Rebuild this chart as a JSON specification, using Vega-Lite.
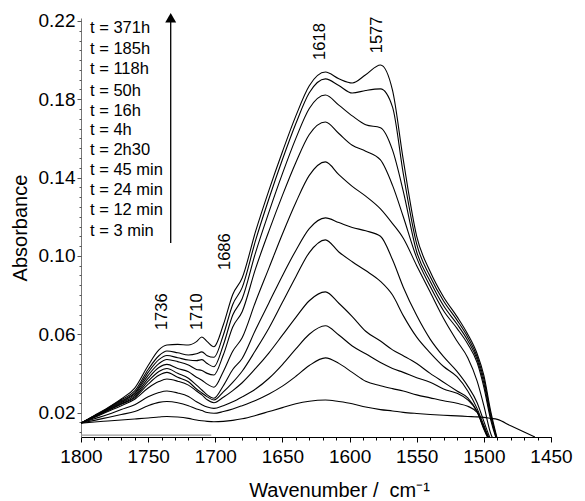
{
"$schema":"https://vega.github.io/schema/vega-lite/v6.json",
"width":470,"height":419,
"autosize":{"type":"none"},
"padding":{"left":81,"top":18,"right":34,"bottom":64},
"background":"white",
"config":{"view":{"stroke":null},"font":"Liberation Sans","axis":{"grid":false,"labelFont":"Liberation Sans","titleFont":"Liberation Sans","labelColor":"black","titleColor":"black","titleFontWeight":"normal"}},
"datasets":{
"spectra":[
{"s":1,"w":1800,"a":0.0146},{"s":1,"w":1790,"a":0.0185},{"s":1,"w":1780,"a":0.0225},{"s":1,"w":1770,"a":0.027},{"s":1,"w":1760,"a":0.0325},{"s":1,"w":1750,"a":0.044},{"s":1,"w":1742,"a":0.052},{"s":1,"w":1736,"a":0.0545},{"s":1,"w":1728,"a":0.0548},{"s":1,"w":1720,"a":0.0545},{"s":1,"w":1714,"a":0.0562},{"s":1,"w":1710,"a":0.0586},{"s":1,"w":1706,"a":0.0562},{"s":1,"w":1701,"a":0.0536},{"s":1,"w":1694,"a":0.0648},{"s":1,"w":1687,"a":0.0803},{"s":1,"w":1680,"a":0.0887},{"s":1,"w":1670,"a":0.1125},{"s":1,"w":1660,"a":0.1336},{"s":1,"w":1650,"a":0.1532},{"s":1,"w":1640,"a":0.1715},{"s":1,"w":1630,"a":0.1869},{"s":1,"w":1618,"a":0.1939},{"s":1,"w":1608,"a":0.1905},{"s":1,"w":1598,"a":0.1883},{"s":1,"w":1588,"a":0.1925},{"s":1,"w":1577,"a":0.1975},{"s":1,"w":1568,"a":0.1845},{"s":1,"w":1560,"a":0.149},{"s":1,"w":1550,"a":0.110},{"s":1,"w":1540,"a":0.092},{"s":1,"w":1530,"a":0.079},{"s":1,"w":1520,"a":0.069},{"s":1,"w":1512,"a":0.060},{"s":1,"w":1505,"a":0.050},{"s":1,"w":1500,"a":0.039},{"s":1,"w":1495,"a":0.021},{"s":1,"w":1490,"a":0.0065},
{"s":2,"w":1800,"a":0.0146},{"s":2,"w":1790,"a":0.0183},{"s":2,"w":1780,"a":0.0222},{"s":2,"w":1770,"a":0.0265},{"s":2,"w":1760,"a":0.031},{"s":2,"w":1750,"a":0.042},{"s":2,"w":1742,"a":0.049},{"s":2,"w":1736,"a":0.0514},{"s":2,"w":1728,"a":0.0505},{"s":2,"w":1720,"a":0.0494},{"s":2,"w":1714,"a":0.050},{"s":2,"w":1710,"a":0.051},{"s":2,"w":1706,"a":0.049},{"s":2,"w":1701,"a":0.0482},{"s":2,"w":1694,"a":0.0596},{"s":2,"w":1687,"a":0.0752},{"s":2,"w":1680,"a":0.0838},{"s":2,"w":1670,"a":0.1079},{"s":2,"w":1660,"a":0.1293},{"s":2,"w":1650,"a":0.1492},{"s":2,"w":1640,"a":0.1676},{"s":2,"w":1630,"a":0.1833},{"s":2,"w":1618,"a":0.1904},{"s":2,"w":1608,"a":0.187},{"s":2,"w":1598,"a":0.1832},{"s":2,"w":1588,"a":0.1845},{"s":2,"w":1577,"a":0.1853},{"s":2,"w":1568,"a":0.176},{"s":2,"w":1560,"a":0.142},{"s":2,"w":1550,"a":0.106},{"s":2,"w":1540,"a":0.0895},{"s":2,"w":1530,"a":0.077},{"s":2,"w":1520,"a":0.0672},{"s":2,"w":1512,"a":0.0585},{"s":2,"w":1505,"a":0.0485},{"s":2,"w":1500,"a":0.037},{"s":2,"w":1495,"a":0.0195},{"s":2,"w":1490,"a":0.006},
{"s":3,"w":1800,"a":0.0146},{"s":3,"w":1790,"a":0.0182},{"s":3,"w":1780,"a":0.022},{"s":3,"w":1770,"a":0.026},{"s":3,"w":1760,"a":0.030},{"s":3,"w":1750,"a":0.0405},{"s":3,"w":1742,"a":0.047},{"s":3,"w":1736,"a":0.0491},{"s":3,"w":1728,"a":0.048},{"s":3,"w":1720,"a":0.0468},{"s":3,"w":1714,"a":0.0465},{"s":3,"w":1710,"a":0.047},{"s":3,"w":1706,"a":0.045},{"s":3,"w":1701,"a":0.0434},{"s":3,"w":1694,"a":0.0545},{"s":3,"w":1687,"a":0.0698},{"s":3,"w":1680,"a":0.0781},{"s":3,"w":1670,"a":0.1017},{"s":3,"w":1660,"a":0.1225},{"s":3,"w":1650,"a":0.142},{"s":3,"w":1640,"a":0.160},{"s":3,"w":1630,"a":0.1753},{"s":3,"w":1618,"a":0.1822},{"s":3,"w":1608,"a":0.177},{"s":3,"w":1598,"a":0.1715},{"s":3,"w":1588,"a":0.167},{"s":3,"w":1577,"a":0.1655},{"s":3,"w":1568,"a":0.154},{"s":3,"w":1560,"a":0.133},{"s":3,"w":1550,"a":0.102},{"s":3,"w":1540,"a":0.087},{"s":3,"w":1530,"a":0.0745},{"s":3,"w":1520,"a":0.0652},{"s":3,"w":1512,"a":0.0568},{"s":3,"w":1505,"a":0.047},{"s":3,"w":1500,"a":0.035},{"s":3,"w":1495,"a":0.018},{"s":3,"w":1490,"a":0.0055},
{"s":4,"w":1800,"a":0.0146},{"s":4,"w":1790,"a":0.0181},{"s":4,"w":1780,"a":0.0218},{"s":4,"w":1770,"a":0.0255},{"s":4,"w":1760,"a":0.0295},{"s":4,"w":1750,"a":0.039},{"s":4,"w":1742,"a":0.045},{"s":4,"w":1736,"a":0.0471},{"s":4,"w":1728,"a":0.046},{"s":4,"w":1720,"a":0.0443},{"s":4,"w":1714,"a":0.042},{"s":4,"w":1710,"a":0.0415},{"s":4,"w":1706,"a":0.040},{"s":4,"w":1701,"a":0.0392},{"s":4,"w":1694,"a":0.0495},{"s":4,"w":1687,"a":0.0637},{"s":4,"w":1680,"a":0.0715},{"s":4,"w":1670,"a":0.0935},{"s":4,"w":1660,"a":0.1128},{"s":4,"w":1650,"a":0.1309},{"s":4,"w":1640,"a":0.1477},{"s":4,"w":1630,"a":0.162},{"s":4,"w":1618,"a":0.1684},{"s":4,"w":1608,"a":0.1625},{"s":4,"w":1598,"a":0.1565},{"s":4,"w":1588,"a":0.1535},{"s":4,"w":1577,"a":0.149},{"s":4,"w":1568,"a":0.136},{"s":4,"w":1560,"a":0.120},{"s":4,"w":1550,"a":0.099},{"s":4,"w":1540,"a":0.0845},{"s":4,"w":1530,"a":0.072},{"s":4,"w":1520,"a":0.063},{"s":4,"w":1512,"a":0.055},{"s":4,"w":1505,"a":0.0455},{"s":4,"w":1500,"a":0.033},{"s":4,"w":1495,"a":0.0165},{"s":4,"w":1490,"a":0.005},
{"s":5,"w":1800,"a":0.0146},{"s":5,"w":1790,"a":0.018},{"s":5,"w":1780,"a":0.0215},{"s":5,"w":1770,"a":0.025},{"s":5,"w":1760,"a":0.0288},{"s":5,"w":1750,"a":0.0375},{"s":5,"w":1742,"a":0.043},{"s":5,"w":1736,"a":0.0446},{"s":5,"w":1728,"a":0.0425},{"s":5,"w":1720,"a":0.0408},{"s":5,"w":1714,"a":0.038},{"s":5,"w":1710,"a":0.0365},{"s":5,"w":1706,"a":0.0345},{"s":5,"w":1701,"a":0.0329},{"s":5,"w":1694,"a":0.0410},{"s":5,"w":1687,"a":0.0513},{"s":5,"w":1680,"a":0.0582},{"s":5,"w":1670,"a":0.0766},{"s":5,"w":1660,"a":0.0939},{"s":5,"w":1650,"a":0.1112},{"s":5,"w":1640,"a":0.1273},{"s":5,"w":1630,"a":0.1411},{"s":5,"w":1618,"a":0.148},{"s":5,"w":1608,"a":0.1415},{"s":5,"w":1598,"a":0.1355},{"s":5,"w":1588,"a":0.1305},{"s":5,"w":1577,"a":0.124},{"s":5,"w":1568,"a":0.1165},{"s":5,"w":1560,"a":0.109},{"s":5,"w":1550,"a":0.095},{"s":5,"w":1540,"a":0.0815},{"s":5,"w":1530,"a":0.068},{"s":5,"w":1520,"a":0.0565},{"s":5,"w":1512,"a":0.048},{"s":5,"w":1505,"a":0.036},{"s":5,"w":1500,"a":0.0235},{"s":5,"w":1495,"a":0.0095},{"s":5,"w":1490,"a":0.003},
{"s":6,"w":1800,"a":0.0146},{"s":6,"w":1790,"a":0.0178},{"s":6,"w":1780,"a":0.0212},{"s":6,"w":1770,"a":0.0245},{"s":6,"w":1760,"a":0.028},{"s":6,"w":1750,"a":0.036},{"s":6,"w":1742,"a":0.041},{"s":6,"w":1736,"a":0.0425},{"s":6,"w":1728,"a":0.040},{"s":6,"w":1720,"a":0.0375},{"s":6,"w":1714,"a":0.034},{"s":6,"w":1710,"a":0.0315},{"s":6,"w":1706,"a":0.029},{"s":6,"w":1701,"a":0.0273},{"s":6,"w":1694,"a":0.0337},{"s":6,"w":1687,"a":0.0420},{"s":6,"w":1680,"a":0.0476},{"s":6,"w":1670,"a":0.0623},{"s":6,"w":1660,"a":0.0761},{"s":6,"w":1650,"a":0.0899},{"s":6,"w":1640,"a":0.1028},{"s":6,"w":1630,"a":0.1139},{"s":6,"w":1618,"a":0.1194},{"s":6,"w":1608,"a":0.117},{"s":6,"w":1598,"a":0.1145},{"s":6,"w":1588,"a":0.1128},{"s":6,"w":1577,"a":0.110},{"s":6,"w":1568,"a":0.098},{"s":6,"w":1560,"a":0.084},{"s":6,"w":1550,"a":0.0695},{"s":6,"w":1540,"a":0.0575},{"s":6,"w":1530,"a":0.0485},{"s":6,"w":1520,"a":0.041},{"s":6,"w":1512,"a":0.0335},{"s":6,"w":1505,"a":0.025},{"s":6,"w":1500,"a":0.0155},{"s":6,"w":1495,"a":0.0065},{"s":6,"w":1490,"a":0.002},
{"s":7,"w":1800,"a":0.0146},{"s":7,"w":1790,"a":0.0177},{"s":7,"w":1780,"a":0.021},{"s":7,"w":1770,"a":0.0242},{"s":7,"w":1760,"a":0.0275},{"s":7,"w":1750,"a":0.0345},{"s":7,"w":1742,"a":0.039},{"s":7,"w":1736,"a":0.0405},{"s":7,"w":1728,"a":0.038},{"s":7,"w":1720,"a":0.0357},{"s":7,"w":1714,"a":0.032},{"s":7,"w":1710,"a":0.030},{"s":7,"w":1706,"a":0.028},{"s":7,"w":1701,"a":0.0264},{"s":7,"w":1694,"a":0.0305},{"s":7,"w":1687,"a":0.0354},{"s":7,"w":1680,"a":0.0411},{"s":7,"w":1670,"a":0.0518},{"s":7,"w":1660,"a":0.0632},{"s":7,"w":1650,"a":0.0763},{"s":7,"w":1640,"a":0.0894},{"s":7,"w":1630,"a":0.1017},{"s":7,"w":1618,"a":0.1082},{"s":7,"w":1608,"a":0.102},{"s":7,"w":1598,"a":0.097},{"s":7,"w":1588,"a":0.0925},{"s":7,"w":1577,"a":0.087},{"s":7,"w":1568,"a":0.080},{"s":7,"w":1560,"a":0.0695},{"s":7,"w":1550,"a":0.0585},{"s":7,"w":1540,"a":0.0505},{"s":7,"w":1530,"a":0.0435},{"s":7,"w":1520,"a":0.0383},{"s":7,"w":1512,"a":0.031},{"s":7,"w":1505,"a":0.022},{"s":7,"w":1500,"a":0.0135},{"s":7,"w":1495,"a":0.0055},{"s":7,"w":1490,"a":0.002},
{"s":8,"w":1800,"a":0.0146},{"s":8,"w":1790,"a":0.0175},{"s":8,"w":1780,"a":0.0205},{"s":8,"w":1770,"a":0.0235},{"s":8,"w":1760,"a":0.0268},{"s":8,"w":1750,"a":0.0325},{"s":8,"w":1742,"a":0.0358},{"s":8,"w":1736,"a":0.0371},{"s":8,"w":1728,"a":0.036},{"s":8,"w":1720,"a":0.034},{"s":8,"w":1714,"a":0.031},{"s":8,"w":1710,"a":0.029},{"s":8,"w":1706,"a":0.0265},{"s":8,"w":1701,"a":0.025},{"s":8,"w":1694,"a":0.0278},{"s":8,"w":1687,"a":0.0312},{"s":8,"w":1680,"a":0.0352},{"s":8,"w":1670,"a":0.0425},{"s":8,"w":1660,"a":0.0505},{"s":8,"w":1650,"a":0.0595},{"s":8,"w":1640,"a":0.0686},{"s":8,"w":1630,"a":0.0771},{"s":8,"w":1618,"a":0.0816},{"s":8,"w":1608,"a":0.0758},{"s":8,"w":1598,"a":0.069},{"s":8,"w":1588,"a":0.0615},{"s":8,"w":1577,"a":0.0565},{"s":8,"w":1568,"a":0.052},{"s":8,"w":1560,"a":0.049},{"s":8,"w":1550,"a":0.045},{"s":8,"w":1540,"a":0.040},{"s":8,"w":1530,"a":0.0355},{"s":8,"w":1520,"a":0.031},{"s":8,"w":1512,"a":0.0275},{"s":8,"w":1505,"a":0.0205},{"s":8,"w":1500,"a":0.0125},{"s":8,"w":1495,"a":0.005},{"s":8,"w":1490,"a":0.002},
{"s":9,"w":1800,"a":0.0146},{"s":9,"w":1790,"a":0.0168},{"s":9,"w":1780,"a":0.019},{"s":9,"w":1770,"a":0.0215},{"s":9,"w":1760,"a":0.024},{"s":9,"w":1750,"a":0.028},{"s":9,"w":1742,"a":0.0302},{"s":9,"w":1736,"a":0.031},{"s":9,"w":1728,"a":0.030},{"s":9,"w":1720,"a":0.0282},{"s":9,"w":1714,"a":0.0255},{"s":9,"w":1710,"a":0.024},{"s":9,"w":1706,"a":0.0228},{"s":9,"w":1701,"a":0.0221},{"s":9,"w":1694,"a":0.0235},{"s":9,"w":1687,"a":0.0255},{"s":9,"w":1680,"a":0.028},{"s":9,"w":1670,"a":0.032},{"s":9,"w":1660,"a":0.0375},{"s":9,"w":1650,"a":0.0445},{"s":9,"w":1640,"a":0.0525},{"s":9,"w":1630,"a":0.060},{"s":9,"w":1618,"a":0.0643},{"s":9,"w":1608,"a":0.0596},{"s":9,"w":1598,"a":0.054},{"s":9,"w":1588,"a":0.050},{"s":9,"w":1577,"a":0.0455},{"s":9,"w":1568,"a":0.0425},{"s":9,"w":1560,"a":0.0405},{"s":9,"w":1550,"a":0.0378},{"s":9,"w":1540,"a":0.0355},{"s":9,"w":1530,"a":0.032},{"s":9,"w":1520,"a":0.0298},{"s":9,"w":1512,"a":0.0265},{"s":9,"w":1505,"a":0.0205},{"s":9,"w":1500,"a":0.012},{"s":9,"w":1495,"a":0.0048},{"s":9,"w":1490,"a":0.002},
{"s":10,"w":1800,"a":0.0146},{"s":10,"w":1790,"a":0.016},{"s":10,"w":1780,"a":0.0175},{"s":10,"w":1770,"a":0.019},{"s":10,"w":1760,"a":0.0205},{"s":10,"w":1750,"a":0.0235},{"s":10,"w":1742,"a":0.0252},{"s":10,"w":1736,"a":0.0256},{"s":10,"w":1728,"a":0.025},{"s":10,"w":1720,"a":0.0235},{"s":10,"w":1714,"a":0.0218},{"s":10,"w":1710,"a":0.021},{"s":10,"w":1706,"a":0.020},{"s":10,"w":1701,"a":0.0196},{"s":10,"w":1694,"a":0.0205},{"s":10,"w":1687,"a":0.0218},{"s":10,"w":1680,"a":0.0235},{"s":10,"w":1670,"a":0.0262},{"s":10,"w":1660,"a":0.0295},{"s":10,"w":1650,"a":0.0335},{"s":10,"w":1640,"a":0.0385},{"s":10,"w":1630,"a":0.044},{"s":10,"w":1618,"a":0.0479},{"s":10,"w":1608,"a":0.0451},{"s":10,"w":1598,"a":0.0405},{"s":10,"w":1588,"a":0.036},{"s":10,"w":1577,"a":0.0337},{"s":10,"w":1568,"a":0.0322},{"s":10,"w":1560,"a":0.031},{"s":10,"w":1550,"a":0.029},{"s":10,"w":1540,"a":0.0275},{"s":10,"w":1530,"a":0.026},{"s":10,"w":1520,"a":0.0247},{"s":10,"w":1512,"a":0.0232},{"s":10,"w":1505,"a":0.020},{"s":10,"w":1500,"a":0.0115},{"s":10,"w":1495,"a":0.0045},{"s":10,"w":1490,"a":0.002},
{"s":11,"w":1800,"a":0.0146},{"s":11,"w":1790,"a":0.0152},{"s":11,"w":1780,"a":0.0157},{"s":11,"w":1770,"a":0.0162},{"s":11,"w":1760,"a":0.0167},{"s":11,"w":1750,"a":0.0172},{"s":11,"w":1742,"a":0.0177},{"s":11,"w":1736,"a":0.018},{"s":11,"w":1728,"a":0.0177},{"s":11,"w":1720,"a":0.017},{"s":11,"w":1714,"a":0.0162},{"s":11,"w":1710,"a":0.0158},{"s":11,"w":1706,"a":0.0155},{"s":11,"w":1701,"a":0.0153},{"s":11,"w":1694,"a":0.0155},{"s":11,"w":1687,"a":0.016},{"s":11,"w":1680,"a":0.0168},{"s":11,"w":1670,"a":0.0185},{"s":11,"w":1660,"a":0.0205},{"s":11,"w":1650,"a":0.0225},{"s":11,"w":1640,"a":0.0245},{"s":11,"w":1630,"a":0.0258},{"s":11,"w":1618,"a":0.0264},{"s":11,"w":1608,"a":0.0256},{"s":11,"w":1598,"a":0.0245},{"s":11,"w":1588,"a":0.0228},{"s":11,"w":1577,"a":0.0215},{"s":11,"w":1568,"a":0.0208},{"s":11,"w":1560,"a":0.0201},{"s":11,"w":1550,"a":0.0195},{"s":11,"w":1540,"a":0.019},{"s":11,"w":1530,"a":0.0186},{"s":11,"w":1520,"a":0.0183},{"s":11,"w":1512,"a":0.018},{"s":11,"w":1505,"a":0.0178},{"s":11,"w":1500,"a":0.0175},{"s":11,"w":1495,"a":0.017},{"s":11,"w":1490,"a":0.0165},{"s":11,"w":1480,"a":0.0132},{"s":11,"w":1470,"a":0.010},{"s":11,"w":1462,"a":0.0075}
],
"legend":[
{"w":1793.3,"a":0.2163,"t":"t = 371h"},{"w":1793.3,"a":0.2055,"t":"t = 185h"},{"w":1793.3,"a":0.1955,"t":"t = 118h"},{"w":1793.3,"a":0.1844,"t":"t = 50h"},{"w":1793.3,"a":0.1742,"t":"t = 16h"},{"w":1793.3,"a":0.1643,"t":"t = 4h"},{"w":1793.3,"a":0.1541,"t":"t = 2h30"},{"w":1793.3,"a":0.1439,"t":"t = 45 min"},{"w":1793.3,"a":0.1337,"t":"t = 24 min"},{"w":1793.3,"a":0.1235,"t":"t = 12 min"},{"w":1793.3,"a":0.1129,"t":"t = 3 min"}
],
"peaks":[
{"w":1739.7,"a":0.0621,"t":"1736"},{"w":1713.8,"a":0.0621,"t":"1710"},{"w":1692.8,"a":0.0928,"t":"1686"},{"w":1622,"a":0.2001,"t":"1618"},{"w":1579.8,"a":0.2035,"t":"1577"}
],
"arrow":[{"w":1733.2,"a1":0.1066,"a2":0.2216}],
"baseline":[{"w1":1800,"w2":1703,"a":0.0085}]
},
"layer":[
{"data":{"name":"spectra"},
 "mark":{"type":"line","interpolate":"monotone","clip":true,"color":"black","strokeWidth":1.1},
 "encoding":{
  "x":{"field":"w","type":"quantitative","scale":{"domain":[1450,1800],"reverse":true,"nice":false,"zero":false},
   "axis":{"orient":"bottom","values":[1800,1750,1700,1650,1600,1550,1500,1450],"format":"d","title":"Wavenumber / \u00a0cm⁻¹","labelFontSize":19,"titleFontSize":20,"tickSize":5,"labelPadding":5,"titlePadding":14,"domainColor":"black","tickColor":"black","labelOverlap":false,"labelFlush":false,"titleX":258,"titleAlign":"center"}},
  "y":{"field":"a","type":"quantitative","scale":{"domain":[0.0075,0.2215],"nice":false,"zero":false},
   "axis":{"orient":"left","values":[0.02,0.06,0.10,0.14,0.18,0.22],"format":".2f","title":"Absorbance","labelFontSize":19,"titleFontSize":20,"tickSize":4,"labelPadding":2,"titlePadding":8,"domainColor":"#777","tickColor":"#555","labelOverlap":false,"labelFlush":false}},
  "detail":{"field":"s","type":"nominal"}
 }},
{"data":{"name":"baseline"},
 "mark":{"type":"rule","color":"#999","strokeWidth":1.2},
 "encoding":{
  "x":{"field":"w1","type":"quantitative","axis":{"orient":"bottom","values":[1800,1790,1780,1770,1760,1750,1740,1730,1720,1710,1700,1690,1680,1670,1660,1650,1640,1630,1620,1610,1600,1590,1580,1570,1560,1550,1540,1530,1520,1510,1500,1490,1480,1470,1460,1450],"labels":false,"domain":false,"tickSize":3,"tickColor":"black","title":null}},
  "x2":{"field":"w2"},
  "y":{"field":"a","type":"quantitative","axis":{"orient":"left","values":[0.01,0.015,0.02,0.025,0.03,0.035,0.04,0.045,0.05,0.055,0.06,0.065,0.07,0.075,0.08,0.085,0.09,0.095,0.1,0.105,0.11,0.115,0.12,0.125,0.13,0.135,0.14,0.145,0.15,0.155,0.16,0.165,0.17,0.175,0.18,0.185,0.19,0.195,0.2,0.205,0.21,0.215,0.22],"labels":false,"domain":false,"tickSize":2,"tickColor":"#555","title":null}}
 }},
{"data":{"name":"arrow"},
 "mark":{"type":"rule","color":"black","strokeWidth":1.3},
 "encoding":{
  "x":{"field":"w","type":"quantitative","axis":null},
  "y":{"field":"a1","type":"quantitative","axis":null},
  "y2":{"field":"a2"}
 }},
{"data":{"name":"arrow"},
 "mark":{"type":"point","shape":"triangle-up","filled":true,"color":"black","size":120,"opacity":1},
 "encoding":{
  "x":{"field":"w","type":"quantitative","axis":null},
  "y":{"field":"a2","type":"quantitative","axis":null}
 }},
{"data":{"name":"legend"},
 "mark":{"type":"text","align":"left","baseline":"middle","fontSize":16.5,"font":"Liberation Sans","color":"black"},
 "encoding":{
  "x":{"field":"w","type":"quantitative","axis":null},
  "y":{"field":"a","type":"quantitative","axis":null},
  "text":{"field":"t"}
 }},
{"data":{"name":"peaks"},
 "mark":{"type":"text","align":"left","baseline":"middle","angle":270,"fontSize":16.5,"font":"Liberation Sans","color":"black"},
 "encoding":{
  "x":{"field":"w","type":"quantitative","axis":null},
  "y":{"field":"a","type":"quantitative","axis":null},
  "text":{"field":"t"}
 }}
],
"resolve":{"axis":{"x":"independent","y":"independent"}}
}
